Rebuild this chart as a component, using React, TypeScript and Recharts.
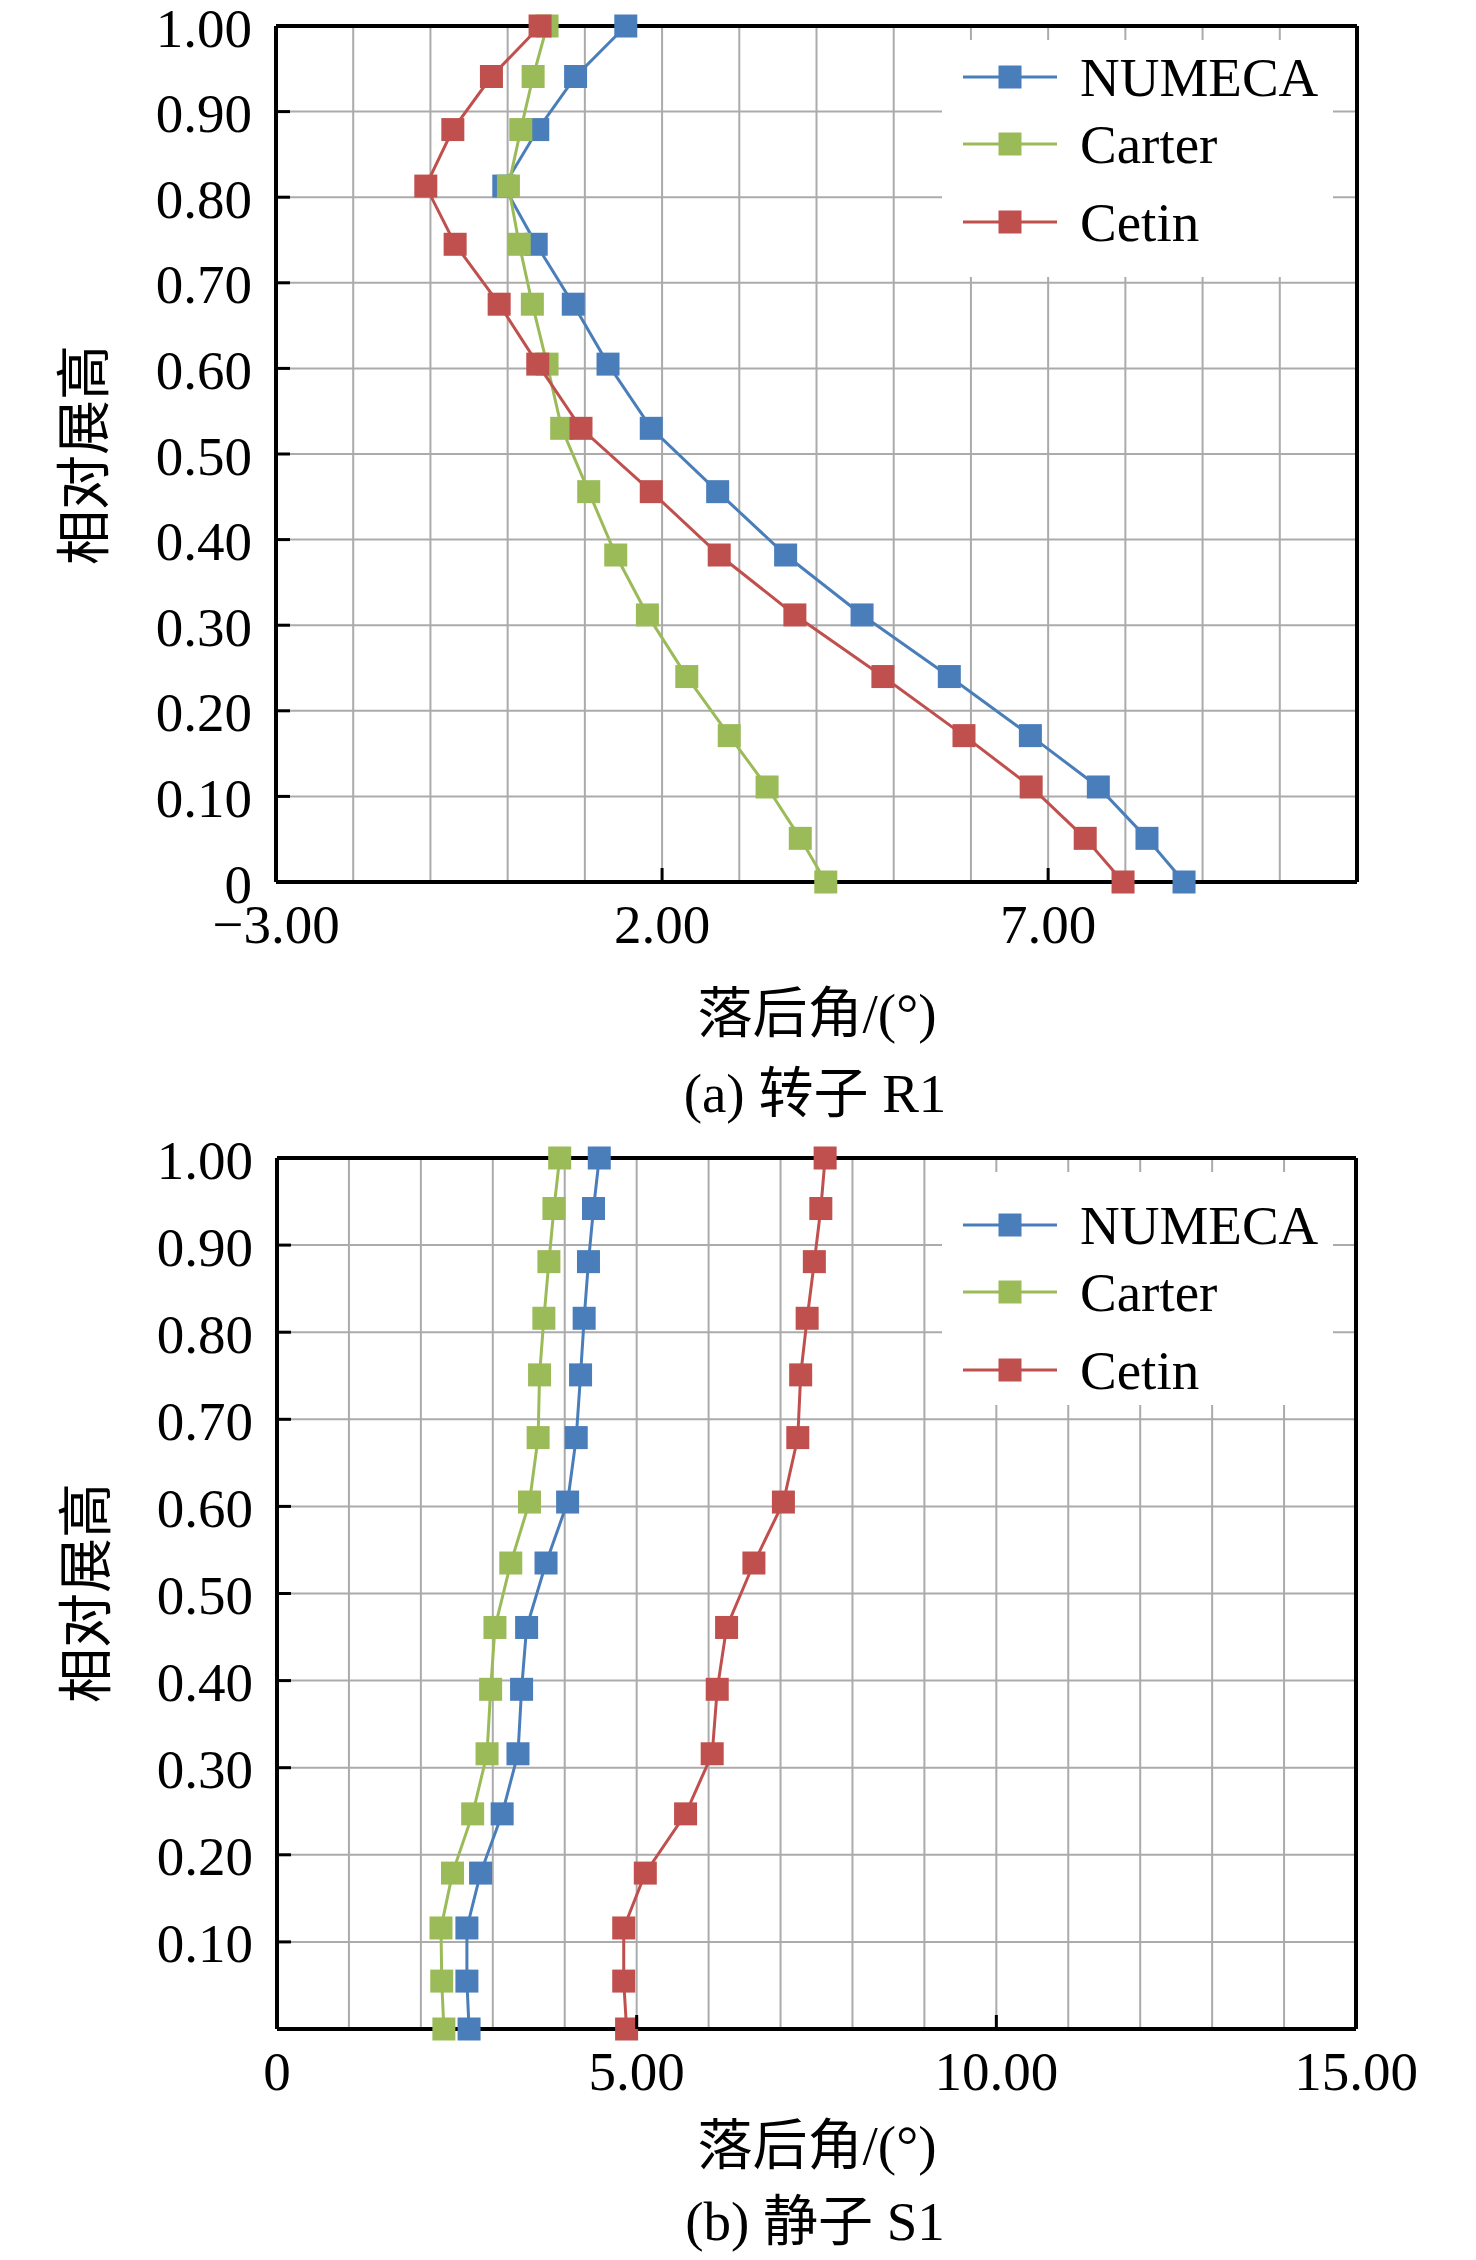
import React from 'react';
import { ScatterChart, Scatter, XAxis, YAxis, CartesianGrid, ReferenceLine, Legend } from 'recharts';

const FONT = "'Liberation Serif', 'Times New Roman', 'Noto Sans CJK SC', serif";

// (a) 转子 R1 —— 相对展高（自上而下）
const spanR1 = [1.0, 0.941, 0.879, 0.813, 0.745, 0.675, 0.605, 0.53, 0.456, 0.382, 0.312, 0.24, 0.171, 0.111, 0.051, 0];
const numecaR1 = [1.53, 0.88, 0.39, -0.05, 0.37, 0.85, 1.3, 1.86, 2.72, 3.6, 4.59, 5.72, 6.77, 7.65, 8.28, 8.76];
const carterR1 = [0.51, 0.33, 0.17, 0.01, 0.15, 0.32, 0.51, 0.7, 1.05, 1.4, 1.81, 2.32, 2.87, 3.36, 3.79, 4.12];
const cetinR1 = [0.42, -0.21, -0.71, -1.06, -0.68, -0.11, 0.39, 0.95, 1.86, 2.74, 3.72, 4.86, 5.91, 6.78, 7.48, 7.97];

// (b) 静子 S1
const spanS1 = [1.0, 0.942, 0.881, 0.816, 0.751, 0.679, 0.605, 0.535, 0.461, 0.39, 0.316, 0.247, 0.179, 0.116, 0.055, 0];
const numecaS1 = [4.48, 4.4, 4.33, 4.27, 4.22, 4.16, 4.04, 3.74, 3.47, 3.4, 3.35, 3.13, 2.83, 2.64, 2.64, 2.67];
const carterS1 = [3.93, 3.85, 3.78, 3.71, 3.65, 3.63, 3.51, 3.25, 3.03, 2.97, 2.92, 2.72, 2.44, 2.28, 2.29, 2.32];
const cetinS1 = [7.62, 7.56, 7.47, 7.37, 7.28, 7.24, 7.04, 6.63, 6.25, 6.12, 6.05, 5.68, 5.12, 4.82, 4.82, 4.86];

const xTicksR1 = [-3, -2, -1, 0, 1, 2, 3, 4, 5, 6, 7, 8, 9, 10, 11];
const xLabelsR1: Record<number, string> = { [-3]: '\u22123.00', 2: '2.00', 7: '7.00' };
const xTicksS1 = [0, 1, 2, 3, 4, 5, 6, 7, 8, 9, 10, 11, 12, 13, 14, 15];
const xLabelsS1: Record<number, string> = { 0: '0', 5: '5.00', 10: '10.00', 15: '15.00' };
const yTicks = [0, 0.1, 0.2, 0.3, 0.4, 0.5, 0.6, 0.7, 0.8, 0.9, 1.0];

const seriesNames = ['NUMECA', 'Carter', 'Cetin'];
const seriesColors = ['#4A7EBB', '#9BBB59', '#C0504D'];
const legendShift = [0, -5, 1];

const toPoints = (xs: number[], ys: number[]) => xs.map((x, i) => ({ x, y: ys[i] }));

const squareShape = (color: string) => (p: any) => (
  <rect x={p.cx - 11.5} y={p.cy - 11.5} width={23} height={23} fill={color} />
);

const TICK_FS = 55;
const TITLE_FS = 55;
const Y_MARGIN = 24;
const X_MARGIN = 42;
const Y_AXIS_W = 200;
const X_AXIS_H = 80;

const renderYTick = (hideZero: boolean) => (p: any) => {
  const v = p.payload.value;
  const label = v === 0 ? (hideZero ? '' : '0') : v.toFixed(2);
  return (
    <g>
      <line x1={p.x + Y_MARGIN} x2={p.x + Y_MARGIN + 14} y1={p.y} y2={p.y} stroke="#000" strokeWidth={3} />
      <text x={p.x} y={p.y} dy={2} textAnchor="end" dominantBaseline="central" fontSize={TICK_FS} fontFamily={FONT} fill="#000">
        {label}
      </text>
    </g>
  );
};

const renderXTick = (labels: Record<number, string>, first: number) => (p: any) => {
  const v = p.payload.value;
  const label = labels[v];
  if (label === undefined) return <g />;
  const axisY = p.y - X_MARGIN;
  return (
    <g>
      {v !== first && <line x1={p.x} x2={p.x} y1={axisY} y2={axisY - 14} stroke="#000" strokeWidth={3} />}
      <text x={p.x} y={p.y} textAnchor="middle" dominantBaseline="central" fontSize={TICK_FS} fontFamily={FONT} fill="#000">
        {label}
      </text>
    </g>
  );
};

const legendContent = (padTop: number, padBottom: number) => (props: any) => {
  const items = [...(props.payload || [])].sort(
    (a: any, b: any) => seriesNames.indexOf(a.value) - seriesNames.indexOf(b.value)
  );
  return (
    <div style={{ background: '#fff', width: 391, paddingTop: padTop, paddingBottom: padBottom }}>
      {items.map((item: any, i: number) => (
        <div
          key={item.value}
          style={{
            height: 72,
            display: 'flex',
            alignItems: 'center',
            fontFamily: FONT,
            fontSize: 55,
            lineHeight: 1,
            color: '#000',
            position: 'relative',
            top: legendShift[i] || 0,
          }}
        >
          <svg width={94} height={30} style={{ marginLeft: 21 }}>
            <line x1={0} x2={94} y1={15} y2={15} stroke={item.color} strokeWidth={3} />
            <rect x={35.5} y={3.5} width={23} height={23} fill={item.color} />
          </svg>
          <span style={{ marginLeft: 23 }}>{item.value}</span>
        </div>
      ))}
    </div>
  );
};

interface PanelProps {
  top: number;
  margin: { top: number; right: number; bottom: number; left: number };
  xDomain: [number, number];
  xTicks: number[];
  xLabels: Record<number, string>;
  hideZero: boolean;
  series: { x: number; y: number }[][];
  legendTop: number;
  legendPad: [number, number];
}

const Panel: React.FC<PanelProps> = ({ top, margin, xDomain, xTicks, xLabels, hideZero, series, legendTop, legendPad }) => (
  <div style={{ position: 'absolute', left: 0, top, width: 1476, height: 1000 }}>
    <ScatterChart width={1476} height={1000} margin={margin}>
      <CartesianGrid stroke="#ABABAB" strokeWidth={2} />
      <XAxis
        type="number"
        dataKey="x"
        domain={xDomain}
        ticks={xTicks}
        interval={0}
        height={X_AXIS_H}
        tickSize={0}
        tickMargin={X_MARGIN}
        axisLine={{ stroke: '#000', strokeWidth: 4 }}
        tickLine={false}
        tick={renderXTick(xLabels, xDomain[0])}
      />
      <YAxis
        type="number"
        dataKey="y"
        domain={[0, 1]}
        ticks={yTicks}
        interval={0}
        width={Y_AXIS_W}
        tickSize={0}
        tickMargin={Y_MARGIN}
        axisLine={{ stroke: '#000', strokeWidth: 4 }}
        tickLine={false}
        tick={renderYTick(hideZero)}
      />
      <ReferenceLine y={1} stroke="#000" strokeWidth={4} />
      <ReferenceLine x={xDomain[1]} stroke="#000" strokeWidth={4} />
      <Legend
        layout="vertical"
        align="center"
        verticalAlign="middle"
        content={legendContent(legendPad[0], legendPad[1])}
        wrapperStyle={{ top: legendTop, left: 942, width: 391 }}
      />
      {series.map((pts, i) => (
        <Scatter
          key={seriesNames[i]}
          name={seriesNames[i]}
          data={pts}
          fill={seriesColors[i]}
          line={{ stroke: seriesColors[i], strokeWidth: 3 }}
          lineType="joint"
          shape={squareShape(seriesColors[i])}
          isAnimationActive={false}
        />
      ))}
    </ScatterChart>
  </div>
);

const textStyle = (x: number, y: number, size: number, rotate = 0): React.CSSProperties => ({
  position: 'absolute',
  left: x,
  top: y,
  transform: `translate(-50%, -50%) rotate(${rotate}deg)`,
  fontFamily: FONT,
  fontSize: size,
  lineHeight: 1,
  whiteSpace: 'nowrap',
  color: '#000',
});

export default function App() {
  return (
    <div style={{ position: 'absolute', left: 0, top: 0, width: 1476, height: 2260, background: '#fff', overflow: 'hidden' }}>
      <Panel
        top={0}
        margin={{ top: 26, right: 119, bottom: 118 - X_AXIS_H, left: 276 - Y_AXIS_W }}
        xDomain={[-3, 11]}
        xTicks={xTicksR1}
        xLabels={xLabelsR1}
        hideZero={false}
        series={[toPoints(numecaR1, spanR1), toPoints(carterR1, spanR1), toPoints(cetinR1, spanR1)]}
        legendTop={40}
        legendPad={[1, 20]}
      />
      <div style={textStyle(84, 455, TITLE_FS, -90)}>相对展高</div>
      <div style={textStyle(817, 1013, TITLE_FS)}>落后角/(°)</div>
      <div style={textStyle(815, 1093, TITLE_FS)}>(a) 转子 R1</div>

      <Panel
        top={1120}
        margin={{ top: 38, right: 120, bottom: 91 - X_AXIS_H, left: 277 - Y_AXIS_W }}
        xDomain={[0, 15]}
        xTicks={xTicksS1}
        xLabels={xLabelsS1}
        hideZero={true}
        series={[toPoints(numecaS1, spanS1), toPoints(carterS1, spanS1), toPoints(cetinS1, spanS1)]}
        legendTop={52}
        legendPad={[17, 0]}
      />
      <div style={textStyle(86, 1593, TITLE_FS, -90)}>相对展高</div>
      <div style={textStyle(817, 2145, TITLE_FS)}>落后角/(°)</div>
      <div style={textStyle(815, 2221, TITLE_FS)}>(b) 静子 S1</div>
    </div>
  );
}
